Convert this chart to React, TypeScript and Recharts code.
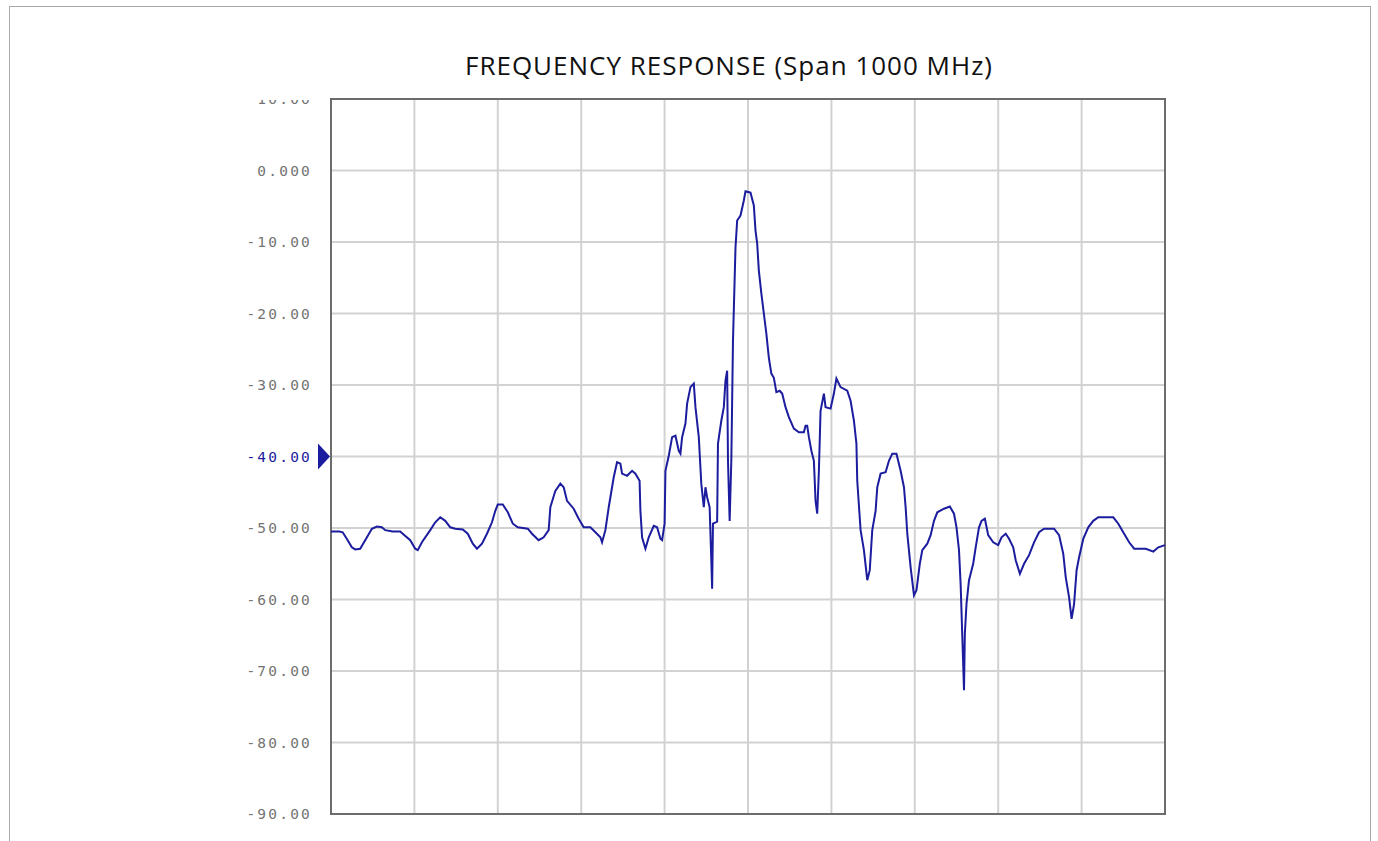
import { LineChart, Line, XAxis, YAxis, CartesianGrid, ReferenceArea } from "recharts"

// frequency offset across the 1000 MHz span (MHz) and trace level (dB)
const freqMHz = [
  0, 10, 14, 20, 25, 29, 35, 41, 49, 55, 61, 65, 74, 83, 86, 95, 101, 104, 109, 119,
  125, 131, 137, 143, 149, 158, 164, 170, 175, 181, 187, 193, 197, 200, 206, 212, 218, 224, 236, 241,
  249, 255, 261, 263, 269, 275, 279, 283, 291, 297, 303, 311, 317, 323, 325, 329, 333, 339, 343, 347,
  349, 355, 361, 365, 370, 371, 373, 377, 381, 387, 391, 395, 397, 400, 401, 405, 409, 413, 417, 419,
  421, 425, 427, 431, 435, 437, 441, 444, 447, 449, 451, 454, 456, 457, 458, 463, 464, 468, 471, 473,
  475, 476, 478, 480, 482, 485, 487, 491, 495, 497, 503, 507, 509, 511, 513, 516, 519, 522, 525, 528,
  531, 534, 538, 541, 545, 549, 555, 561, 567, 569, 571, 573, 576, 579, 581, 583, 585, 587, 591, 593,
  599, 603, 606, 611, 619, 623, 627, 630, 631, 635, 639, 643, 646, 649, 653, 655, 659, 665, 669, 673,
  678, 683, 687, 689, 691, 695, 699, 702, 706, 709, 715, 719, 723, 727, 735, 742, 747, 750, 753, 755,
  757, 759, 760, 762, 765, 770, 773, 777, 780, 784, 788, 794, 800, 804, 809, 813, 818, 821, 826, 831,
  837, 843, 849, 855, 867, 873, 878, 881, 885, 888, 891, 894, 897, 902, 908, 914, 920, 938, 944, 951,
  957, 963, 971, 977, 986, 992, 1000,
]
const levelDb = [
  -50.5, -50.5, -50.6, -51.7, -52.7, -53.0, -52.9, -51.7, -50.1, -49.8, -49.9, -50.3, -50.5, -50.5, -50.8, -51.7, -52.9, -53.1, -52.0, -50.3,
  -49.2, -48.5, -49.0, -49.9, -50.1, -50.2, -50.8, -52.2, -52.9, -52.2, -50.8, -49.2, -47.6, -46.7, -46.7, -47.8, -49.4, -49.9, -50.1, -50.8,
  -51.7, -51.3, -50.3, -47.1, -44.8, -43.8, -44.3, -46.2, -47.3, -48.7, -49.9, -49.9, -50.6, -51.3, -52.0, -50.3, -47.1, -42.9, -40.8, -41.0,
  -42.4, -42.7, -42.0, -42.4, -43.4, -47.6, -51.3, -52.9, -51.3, -49.7, -49.9, -51.5, -51.7, -49.4, -42.0, -39.9, -37.3, -37.1, -39.2, -39.6,
  -37.3, -35.4, -32.6, -30.3, -29.8, -33.1, -37.3, -43.8, -47.1, -44.3, -45.7, -47.1, -54.5, -58.5, -49.4, -49.1, -38.2, -35.0, -33.1, -29.4,
  -28.0, -40.6, -49.0, -40.6, -23.8, -10.8, -7.0, -6.3, -4.2, -2.9, -3.1, -4.9, -8.4, -10.2, -14.0, -17.2, -20.0, -22.8, -26.2, -28.4,
  -29.0, -31.0, -30.8, -31.2, -33.1, -34.5, -36.1, -36.6, -36.6, -35.7, -35.7, -37.3, -39.2, -40.6, -46.2, -48.0, -42.0, -33.6, -31.2, -33.1,
  -33.3, -31.2, -29.1, -30.3, -30.8, -32.2, -35.0, -38.2, -43.4, -50.3, -53.1, -57.3, -55.9, -50.3, -47.6, -44.3, -42.4, -42.2, -40.6, -39.6,
  -39.6, -42.0, -44.3, -47.1, -50.8, -55.5, -59.4, -58.7, -55.0, -53.1, -52.2, -51.0, -49.0, -47.8, -47.3, -47.0, -48.0, -49.9, -53.1, -58.0,
  -65.3, -72.7, -64.8, -60.6, -57.3, -55.0, -52.7, -49.9, -49.0, -48.7, -51.0, -52.0, -52.4, -51.3, -50.8, -51.5, -52.7, -54.5, -56.4, -55.0,
  -53.8, -52.0, -50.6, -50.1, -50.1, -51.0, -53.6, -56.9, -59.7, -62.7, -60.6, -55.9, -54.1, -51.5, -49.9, -49.0, -48.5, -48.5, -49.4, -50.8,
  -52.0, -52.9, -52.9, -52.9, -53.3, -52.7, -52.4,
]

const xTicks = [0, 100, 200, 300, 400, 500, 600, 700, 800, 900, 1000]
const yTicks = [10, 0, -10, -20, -30, -40, -50, -60, -70, -80, -90]
const yTickLabels = ["10.00", "0.000", "-10.00", "-20.00", "-30.00", "-40.00", "-50.00", "-60.00", "-70.00", "-80.00", "-90.00"]
const refLevel = -40

const data = freqMHz.map((f, i) => ({ f, db: levelDb[i] }))

const TRACE = "#1c1c9e"

function YTick(props: any) {
  const { x, y, payload } = props
  const v = payload.value
  const label = yTickLabels[yTicks.indexOf(v)]
  const isRef = v === refLevel
  const clipped = v === 10
  return (
    <g>
      {clipped && (
        <defs>
          <clipPath id="topTickClip">
            <rect x={x - 120} y={y + 1} width={140} height={30} />
          </clipPath>
        </defs>
      )}
      <text
        x={x}
        y={y}
        dy={5}
        textAnchor="end"
        fill={isRef ? TRACE : "#737373"}
        fontFamily="DejaVu Sans Mono"
        fontSize={14.5}
        letterSpacing={2.2}
        clipPath={clipped ? "url(#topTickClip)" : undefined}
      >
        {label}
      </text>
      {isRef && <path d={`M${x + 6},${y - 13} L${x + 18},${y} L${x + 6},${y + 13} Z`} fill={TRACE} />}
    </g>
  )
}

export default function App() {
  return (
    <div style={{ position: "absolute", left: 0, top: 0, width: 1378, height: 841, overflow: "hidden", background: "#fff" }}>
      <div style={{ position: "absolute", left: 9, top: 6, width: 1360, height: 900, border: "1px solid #a8a8a8" }} />
      <div
        style={{
          position: "absolute",
          left: 329,
          top: 47,
          width: 800,
          textAlign: "center",
          fontFamily: "Open Sans",
          fontSize: 26,
          letterSpacing: 1,
          color: "#111",
          whiteSpace: "nowrap",
        }}
      >
        FREQUENCY RESPONSE (Span 1000 MHz)
      </div>
      <div style={{ position: "absolute", left: 0, top: 0 }}>
        <LineChart width={1378} height={841} data={data} margin={{ top: 99, right: 213, bottom: 27, left: 231 }}>
          <CartesianGrid stroke="#d2d2d2" strokeWidth={2} />
          <XAxis
            dataKey="f"
            type="number"
            domain={[0, 1000]}
            ticks={xTicks}
            interval={0}
            tick={() => <g />}
            tickLine={false}
            axisLine={false}
            height={0}
          />
          <YAxis
            type="number"
            domain={[-90, 10]}
            ticks={yTicks}
            interval={0}
            width={100}
            tickLine={false}
            tickSize={0}
            tickMargin={19}
            axisLine={false}
            tick={<YTick />}
          />
          <ReferenceArea x1={0} x2={1000} y1={-90} y2={10} fill="none" stroke="#6c6c6c" strokeWidth={2} />
          <Line
            type="linear"
            dataKey="db"
            stroke={TRACE}
            strokeWidth={2}
            dot={false}
            isAnimationActive={false}
          />
        </LineChart>
      </div>
    </div>
  )
}
